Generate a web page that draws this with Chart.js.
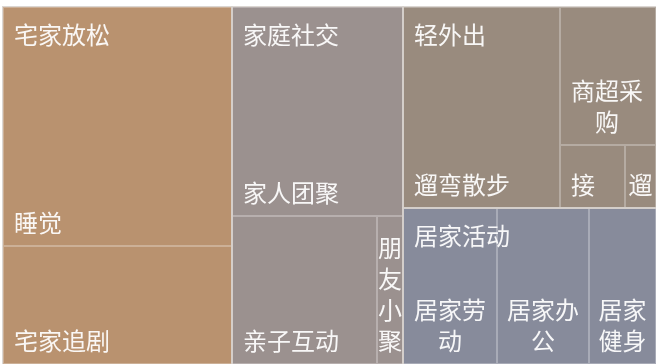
<!DOCTYPE html>
<html>
<head>
<meta charset="utf-8">
<script src="https://cdn.jsdelivr.net/npm/chart.js@4"></script>
<style>
    html, body { margin: 0; padding: 0; background: #fff; }
    #wrap { width: 656px; height: 364px; position: relative; }
</style>
</head>
<body>
<div id="wrap"><canvas id="treeChart"></canvas></div>
<script>
// treemap data
const groups = ['宅家放松', '家庭社交', '轻外出', '居家活动'];
const leafNames = [
    ['睡觉', '宅家追剧'],
    ['家人团聚', '亲子互动', '朋友小聚'],
    ['遛弯散步', '商超采购', '接', '遛'],
    ['居家劳动', '居家办公', '居家健身']
];
const leafValues = [
    [235, 116],
    [153, 92, 16.5],
    [135.5, 57, 17.5, 8.4],
    [63, 61.5, 45]
];
const groupColors = ['#b9926f', '#9b918f', '#998b7e', '#878b9b'];

const SQUARE_RATIO = 0.7;
const FONT = '24px "Noto Sans CJK SC", "Noto Sans", sans-serif';
const LINE_H = 31;
const PAD = 11;

function worst(row, len, ratio) {
    let max = 0, min = Infinity, sum = 0;
    row.forEach(r => { sum += r.area; max = Math.max(max, r.area); min = Math.min(min, r.area); });
    const f = len * len * ratio, sq = sum * sum;
    return Math.max(f * max / sq, sq / (f * min));
}

function position(row, rect) {
    const sum = row.reduce((s, r) => s + r.area, 0);
    if (rect.w <= rect.h) {
        const t = sum / rect.w;
        let x = rect.x;
        row.forEach(r => { const w = r.area / t; r.rect = { x: x, y: rect.y, w: w, h: t }; x += w; });
        rect.y += t; rect.h -= t;
    } else {
        const t = sum / rect.h;
        let y = rect.y;
        row.forEach(r => { const h = r.area / t; r.rect = { x: rect.x, y: y, w: t, h: h }; y += h; });
        rect.x += t; rect.w -= t;
    }
}

function squarify(items, rect) {
    const total = items.reduce((s, it) => s + it.value, 0);
    const sorted = items.slice().sort((a, b) => b.value - a.value);
    sorted.forEach(it => it.area = it.value / total * rect.w * rect.h);
    const r = Object.assign({}, rect);
    let row = [], best = Infinity, len = Math.min(r.w, r.h), i = 0;
    while (i < sorted.length) {
        row.push(sorted[i]);
        const score = worst(row, len, SQUARE_RATIO);
        if (score <= best) { best = score; i++; }
        else {
            row.pop();
            position(row, r);
            len = Math.min(r.w, r.h);
            row = []; best = Infinity;
        }
    }
    if (row.length) position(row, r);
    return items;
}

function wrapText(ctx, text, maxW) {
    const lines = [];
    let cur = '';
    for (const ch of text) {
        if (cur && ctx.measureText(cur + ch).width > maxW) { lines.push(cur); cur = ch; }
        else cur += ch;
    }
    if (cur) lines.push(cur);
    return lines;
}

function px(xs, ys, r) {
    const x0 = Math.round(xs.getPixelForValue(r.x)), x1 = Math.round(xs.getPixelForValue(r.x + r.w));
    const y0 = Math.round(ys.getPixelForValue(r.y)), y1 = Math.round(ys.getPixelForValue(r.y + r.h));
    return { x: x0, y: y0, w: x1 - x0, h: y1 - y0 };
}

const treemapPlugin = {
    id: 'treemap',
    afterDatasetsDraw(chart) {
        const ctx = chart.ctx;
        const xs = chart.scales.x, ys = chart.scales.y;
        // layout in data units, aspect taken from the scales
        const kx = Math.abs(xs.getPixelForValue(1) - xs.getPixelForValue(0));
        const ky = Math.abs(ys.getPixelForValue(1) - ys.getPixelForValue(0));
        const top = groups.map((g, gi) => ({
            name: g, gi: gi, value: leafValues[gi].reduce((s, v) => s + v, 0)
        }));
        // squarify in pixel-proportional space, then back to data units
        const W = (xs.max - xs.min) * kx, H = (ys.max - ys.min) * ky;
        squarify(top, { x: 0, y: 0, w: W, h: H });
        const toData = r => ({ x: xs.min + r.x / kx, y: ys.min + r.y / ky, w: r.w / kx, h: r.h / ky });
        top.forEach(g => {
            g.leaves = leafNames[g.gi].map((n, li) => ({ name: n, value: leafValues[g.gi][li] }));
            squarify(g.leaves, Object.assign({}, g.rect));
        });

        ctx.save();
        ctx.font = FONT;
        // fills
        top.forEach(g => {
            g.leaves.forEach(l => {
                const p = px(xs, ys, toData(l.rect));
                ctx.fillStyle = groupColors[g.gi];
                ctx.fillRect(p.x, p.y, p.w, p.h);
            });
        });
        // labels
        ctx.fillStyle = 'rgba(255,255,255,0.93)';
        top.forEach(g => {
            const gp = px(xs, ys, toData(g.rect));
            ctx.textAlign = 'left';
            ctx.textBaseline = 'middle';
            ctx.fillText(g.name, gp.x + PAD, gp.y + 28);
            g.leaves.forEach(l => {
                const p = px(xs, ys, toData(l.rect));
                const lines = wrapText(ctx, l.name, p.w - 16);
                const blockW = Math.max(...lines.map(s => ctx.measureText(s).width));
                let left = p.x + PAD;
                if (blockW > p.w - 2 * PAD) left = p.x + (p.w - blockW) / 2;
                ctx.textAlign = 'center';
                lines.forEach((s, k) => {
                    const cy = p.y + p.h - 23.5 - (lines.length - 1 - k) * LINE_H;
                    ctx.fillText(s, left + blockW / 2, cy);
                });
            });
        });
        // borders
        ctx.lineWidth = 1;
        ctx.strokeStyle = 'rgba(255,255,255,0.28)';
        top.forEach(g => {
            g.leaves.forEach(l => {
                const p = px(xs, ys, toData(l.rect));
                ctx.strokeRect(p.x + 0.5, p.y + 0.5, p.w - 1, p.h - 1);
            });
        });
        ctx.strokeStyle = 'rgba(215,210,205,0.9)';
        top.forEach(g => {
            const gp = px(xs, ys, toData(g.rect));
            ctx.strokeRect(gp.x - 0.5, gp.y - 0.5, gp.w + 1, gp.h + 1);
        });
        ctx.restore();
    }
};

new Chart(document.getElementById('treeChart'), {
    type: 'scatter',
    data: { datasets: [{ data: [] }] },
    options: {
        responsive: true,
        maintainAspectRatio: false,
        animation: false,
        layout: { padding: { top: 7, left: 3, right: 0, bottom: 0 } },
        plugins: { legend: { display: false }, tooltip: { enabled: false } },
        scales: {
            x: { type: 'linear', min: 0, max: 100, display: false },
            y: { type: 'linear', min: 0, max: 100, reverse: true, display: false }
        }
    },
    plugins: [treemapPlugin]
});
</script>
</body>
</html>
